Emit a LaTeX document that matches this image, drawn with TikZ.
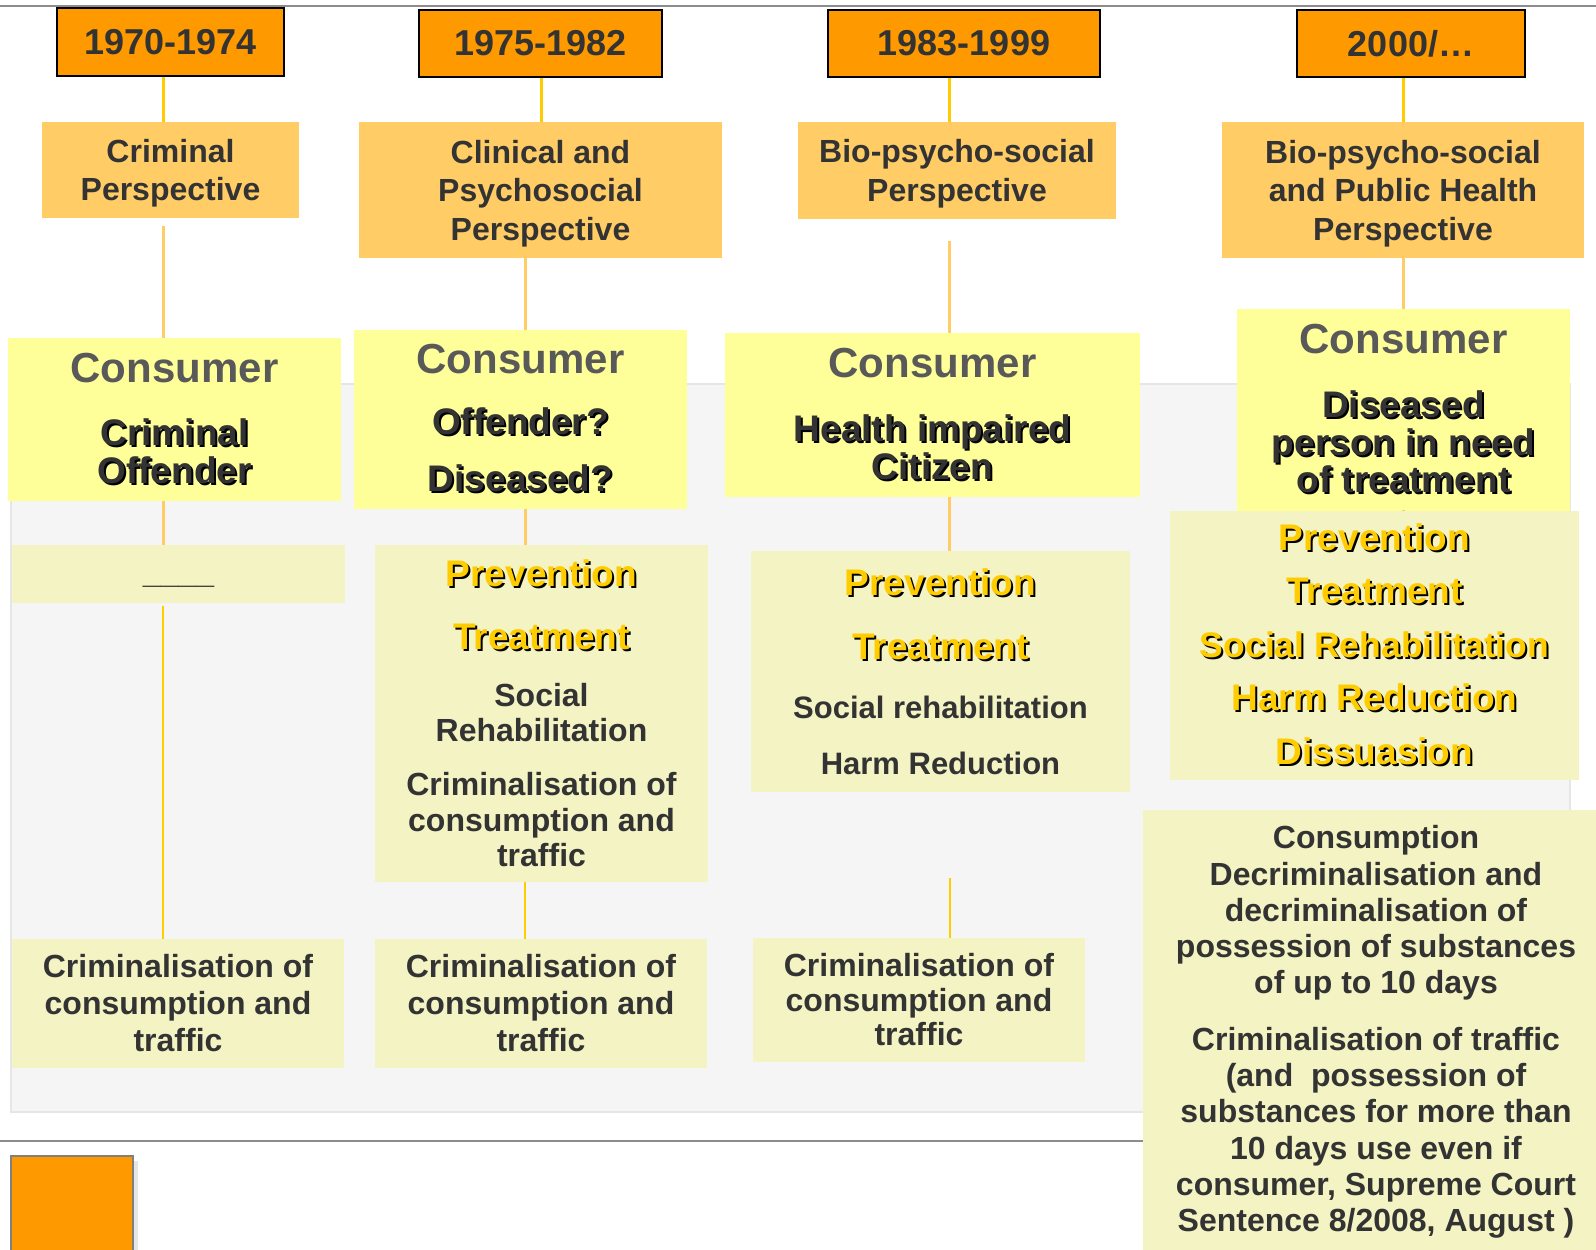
\documentclass[tikz,border=0pt]{standalone}
\usepackage{fontspec}
\setmainfont{Liberation Sans}
\usepackage{tikz}
\usetikzlibrary{positioning}

\definecolor{yearorange}{HTML}{FF9900}
\definecolor{persporange}{HTML}{FFCC66}
\definecolor{consyellow}{HTML}{FFFF99}
\definecolor{paleyellow}{HTML}{F3F3C3}
\definecolor{lineyellow}{HTML}{FFCC00}
\definecolor{darktext}{HTML}{333333}
\definecolor{consgray}{HTML}{595959}
\definecolor{panelgray}{HTML}{F5F5F5}
\definecolor{paneledge}{HTML}{E6E6E6}
\definecolor{rulegray}{HTML}{8C8C8C}

\newcommand{\shtext}[2]{\makebox[0pt][l]{\hspace{2pt}\raisebox{-2pt}{\color{black}#2}}\textcolor{#1}{#2}}
\newcommand{\ylw}[2][37]{{\fontsize{#1}{#1}\selectfont\shtext{lineyellow}{#2}}}
\newcommand{\drk}[1]{\shtext{darktext}{#1}}
\newcommand{\cons}{{\fontsize{42}{42}\selectfont\color{consgray}Consumer}}

\begin{document}
\begin{tikzpicture}[x=1pt,y=-1pt,
  boxsize/.style 2 args={minimum width=#1pt,minimum height=#2pt},
  yearbox/.style={draw=black,line width=2pt,fill=yearorange,text=darktext,inner sep=0pt,
    font=\fontsize{36}{40}\selectfont\bfseries},
  persp/.style={fill=persporange,text=darktext,align=center,inner sep=0pt,text depth=0pt,
    font=\fontsize{32}{38.5}\selectfont\bfseries},
  consbox/.style={fill=consyellow,text=darktext,align=center,inner sep=0pt,
    font=\fontsize{37}{37.5}\selectfont\bfseries},
  palebox/.style={fill=paleyellow,text=darktext,align=center,inner sep=0pt,
    font=\fontsize{32}{35.5}\selectfont\bfseries},
  topline/.style={draw=lineyellow,line width=3pt},
  midline/.style={draw=persporange,line width=3pt},
  lowline/.style={draw=lineyellow,line width=2pt}]
  \useasboundingbox (0,0) rectangle (1596,1250);

  % background
  \draw[rulegray,line width=2.5pt] (0,6) -- (1596,6);
  \draw[fill=panelgray,draw=paneledge,line width=1.5pt] (11,384) rectangle (1570,1112);
  \draw[rulegray,line width=2.5pt] (0,1141) -- (1143,1141);
  \fill[paneledge] (16,1161) rectangle (138,1256);
  \draw[fill=yearorange,draw=gray,line width=1.5pt] (11,1156) rectangle (133,1256);

  % periods
  \node[yearbox,boxsize={227}{68}] (y1) at (170.5,42) {1970-1974};
  \node[yearbox,boxsize={243}{67}] (y2) at (540.5,43.5) {1975-1982};
  \node[yearbox,boxsize={272}{67}] (y3) at (964,43.5) {1983-1999};
  \node[yearbox,boxsize={228}{67}] (y4) at (1411,43.5) {2000/…};

  % perspectives
  \node[persp,boxsize={257}{96}] (p1) at (170.5,170) {Criminal\\Perspective};
  \node[persp,boxsize={363}{136}] (p2) at (540.5,190) {Clinical and\\Psychosocial\\Perspective};
  \node[persp,boxsize={318}{97}] (p3) at (957,170.5) {Bio-psycho-social\\Perspective};
  \node[persp,boxsize={362}{136}] (p4) at (1403,190) {Bio-psycho-social\\and Public Health\\Perspective};

  % consumer
  \node[consbox,boxsize={333}{163}] (c1) at (174.5,419.5) {\cons\\[26pt]\drk{Criminal}\\\drk{Offender}};
  \node[consbox,boxsize={333}{179}] (c2) at (520.5,419.5) {\cons\\[23.5pt]\drk{Offender?}\\[19.5pt]\drk{Diseased?}};
  \node[consbox,boxsize={415}{164}] (c3) at (932.5,415) {\cons\\[27pt]\drk{Health impaired}\\\drk{Citizen}};
  \node[consbox,boxsize={333}{202}] (c4) at (1403.5,410) {\cons\\[26.5pt]\drk{Diseased}\\\drk{person in need}\\\drk{of treatment}};

  % responses
  \node[palebox,boxsize={333}{58},text height=20pt,text depth=10pt] (r1) at (178.5,574) {\raisebox{-4pt}{\_\_\_\_}};
  \node[palebox,boxsize={333}{337}] (r2) at (541.5,713.5)
    {\ylw{Prevention}\\[27.5pt]\ylw{Treatment}\\[21pt]Social\\Rehabilitation\\[18.5pt]Criminalisation of\\consumption and\\traffic};
  \node[palebox,boxsize={379}{241},font=\fontsize{31}{35.5}\selectfont\bfseries] (r3) at (940.5,671.5)
    {\ylw{Prevention}\\[28.5pt]\ylw{Treatment}\\[23pt]Social rehabilitation\\[20.5pt]Harm Reduction};
  \node[palebox,boxsize={409}{269},font=\fontsize{36}{53.6}\selectfont\bfseries] (r4) at (1374.5,645)
    {\ylw{Prevention}\\\ylw{Treatment}\\\ylw[35.5]{Social Rehabilitation}\\\ylw{Harm Reduction}\\\ylw{Dissuasion}};

  % law
  \node[palebox,boxsize={332}{129},font=\fontsize{32}{37}\selectfont\bfseries] (l1) at (178,1003.5)
    {Criminalisation of\\consumption and\\traffic};
  \node[palebox,boxsize={332}{129},font=\fontsize{32}{37}\selectfont\bfseries] (l2) at (541,1003.5)
    {Criminalisation of\\consumption and\\traffic};
  \node[palebox,boxsize={332}{124},font=\fontsize{32}{34.5}\selectfont\bfseries] (l3) at (919,1000)
    {Criminalisation of\\consumption and\\traffic};
  \node[palebox,boxsize={466}{444},font=\fontsize{32}{36.3}\selectfont\bfseries] (l4) at (1376,1032)
    {Consumption\\Decriminalisation and\\decriminalisation of\\possession of substances\\of up to 10 days\\[20pt]
     Criminalisation of traffic\\(and\ \ possession of\\substances for more than\\10 days use even if\\consumer, Supreme Court\\Sentence 8/2008, August )};

  % links
  \coordinate (ax1) at (163,0);
  \coordinate (ax2t) at (541,0);
  \coordinate (ax2) at (525,0);
  \coordinate (ax3) at (949.5,0);
  \coordinate (ax4) at (1403,0);

  \draw[topline] (ax1 |- y1.south) -- (ax1 |- p1.north);
  \draw[midline,shorten <=8pt] (ax1 |- p1.south) -- (ax1 |- c1.north);
  \draw[midline] (ax1 |- c1.south) -- (ax1 |- r1.north);
  \draw[lowline,shorten <=3pt] (ax1 |- r1.south) -- (ax1 |- l1.north);

  \draw[topline] (ax2t |- y2.south) -- (ax2t |- p2.north);
  \draw[midline] (ax2 |- p2.south) -- (ax2 |- c2.north);
  \draw[midline] (ax2 |- c2.south) -- (ax2 |- r2.north);
  \draw[lowline] (ax2 |- r2.south) -- (ax2 |- l2.north);

  \draw[topline] (ax3 |- y3.south) -- (ax3 |- p3.north);
  \draw[midline,shorten <=22pt] (ax3 |- p3.south) -- (ax3 |- c3.north);
  \draw[midline] (ax3 |- c3.south) -- (ax3 |- r3.north);
  \draw[lowline,shorten <=86pt] (ax3 |- r3.south) -- (ax3 |- l3.north);

  \draw[topline] (ax4 |- y4.south) -- (ax4 |- p4.north);
  \draw[midline] (ax4 |- p4.south) -- (ax4 |- c4.north);
  \draw[midline] (ax4 |- c4.south) -- (ax4 |- r4.north);
\end{tikzpicture}
\end{document}
